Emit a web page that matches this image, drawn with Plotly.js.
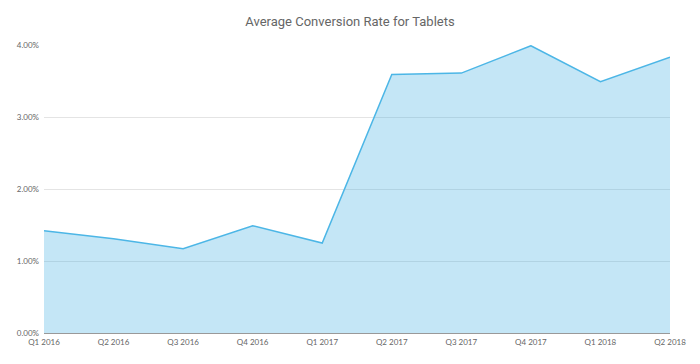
<!DOCTYPE html>
<html><head><meta charset="utf-8">
<script src="https://cdn.plot.ly/plotly-3.0.1.min.js"></script>
<style>html,body{margin:0;padding:0;background:#fff;}#chart{width:700px;height:364px;}</style>
</head><body><div id="chart"></div>
<script>
const quarters = ["Q1 2016","Q2 2016","Q3 2016","Q4 2016","Q1 2017","Q2 2017","Q3 2017","Q4 2017","Q1 2018","Q2 2018"];
const conversionRate = [1.42, 1.31, 1.17, 1.49, 1.25, 3.59, 3.61, 3.99, 3.49, 3.83];
const yTickVals = [0, 1, 2, 3, 4];
const yTickText = ["0.00%","1.00%","2.00%","3.00%","4.00%"];

Plotly.newPlot("chart", [{
  x: quarters, y: conversionRate, type: "scatter", mode: "lines",
  fill: "tozeroy", fillcolor: "rgba(58,172,225,0.3)",
  line: {color: "#4cb6e6", width: 1.5, shape: "linear"},
  hoverinfo: "x+y"
}], {
  width: 700, height: 364,
  margin: {l: 44, r: 30, t: 45, b: 31},
  paper_bgcolor: "#fff", plot_bgcolor: "#fff",
  title: {text: "Average Conversion Rate for Tablets", x: 0.5, xanchor: "center", y: 0.94, yanchor: "middle",
          font: {family: "Roboto, Arial, sans-serif", size: 13, color: "#666"}},
  font: {family: "Lato, 'Open Sans', sans-serif", size: 8, color: "#666"},
  xaxis: {type: "category", range: [0, quarters.length - 1], showgrid: false, zeroline: false,
          showline: true, linecolor: "#999", linewidth: 1, ticks: "", ticklen: 0,
          tickfont: {size: 8, color: "#666"}, ticklabelstandoff: 1, fixedrange: true},
  yaxis: {range: [0, 4], tickvals: yTickVals, ticktext: yTickText, showgrid: true,
          gridcolor: "#e4e4e4", gridwidth: 1, zeroline: false, showline: false, ticks: "",
          tickfont: {size: 8, color: "#666"}, ticklabelstandoff: 4, fixedrange: true},
  showlegend: false
}, {displayModeBar: false});
</script></body></html>
